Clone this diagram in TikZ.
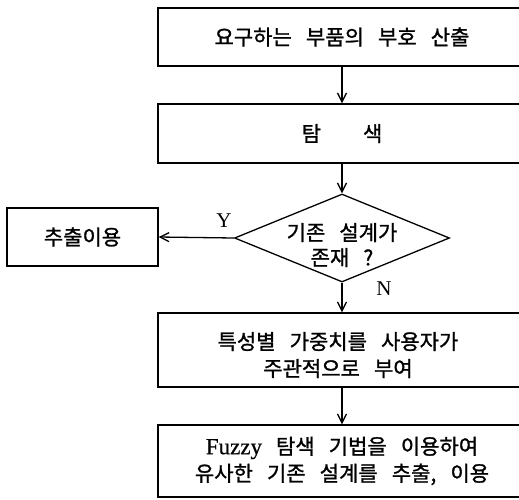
\documentclass[tikz,border=0pt]{standalone}
\usepackage{fontspec}
\setmainfont{Liberation Serif}
\newfontfamily\kr{Noto Sans CJK KR}[WordSpace=3.0, FakeBold=1.2]
\usetikzlibrary{shapes.geometric,arrows.meta}
\begin{document}
\begin{tikzpicture}[x=1pt,y=-1pt,
  box/.style={draw, line width=1.3pt, rectangle, minimum width=368pt, inner sep=0pt, align=center,
    font=\kr\fontsize{21}{27}\selectfont},
  txt/.style={inner sep=0pt, align=center, font=\kr\fontsize{21}{27}\selectfont},
  sidebox/.style={draw, line width=1.3pt, rectangle, minimum width=151pt, minimum height=58pt, inner sep=0pt,
    font=\kr\fontsize{21}{27}\selectfont},
  decision/.style={draw, line width=1.3pt, diamond, aspect=2.5, minimum width=215pt, minimum height=88pt,
    inner sep=0pt},
  arr/.style={line width=1.3pt, -{Straight Barb[length=9pt,width=9pt,line width=1.3pt]}},
  lbl/.style={font=\fontsize{21}{21}\selectfont, inner sep=0pt}]
\useasboundingbox (0,0) rectangle (519,499);
\node[box, minimum height=58pt] (b1) at (342,37) {요구하는 부품의 부호 산출};
\node[box, minimum height=59pt] (b2) at (342,133.5) {탐\hspace{42pt}색};
\node[decision] (d) at (342,238) {};
\node[txt, font=\kr\fontsize{21}{25}\selectfont] (dt) at (342,245) {기존 설계가\\존재 ?};
\node[sidebox] (yes) at (82.5,237) {추출이용};
\node[box, minimum height=74pt] (b3) at (342,350) {};
\node[txt] (t3) at (338,355) {특성별 가중치를 사용자가\\주관적으로 부여};
\node[box, minimum height=72pt] (b4) at (342,461) {{\fontsize{23}{27}\selectfont\rmfamily\addfontfeature{FakeBold=0.6}Fuzzy}\hspace{14pt}{\kr 탐색 기법을 이용하여}\\유사한 기존 설계를 추출, 이용};
\node[lbl] (ly) at (224,221) {Y};
\node[lbl] (ln) at (384,289) {N};
\draw[arr] (b1.south) -- (b2.north);
\draw[arr] (b2.south) -- (d.north);
\draw[arr] (d.west) -- (yes.east);
\draw[arr] (d.south) -- (b3.north);
\draw[arr] (b3.south) -- (b4.north);
\end{tikzpicture}
\end{document}
